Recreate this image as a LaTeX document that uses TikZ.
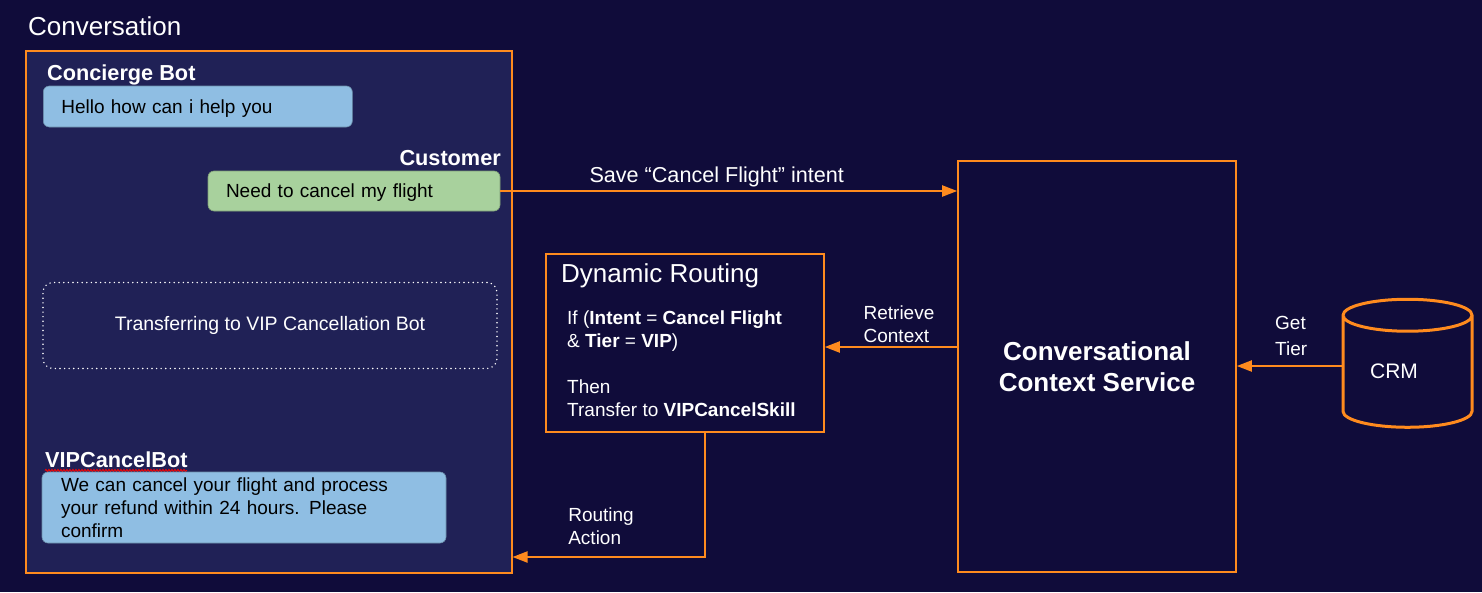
\documentclass[tikz,border=0pt]{standalone}
\usepackage{fontspec}
\setmainfont{Liberation Sans}
\usetikzlibrary{arrows.meta}
\usetikzlibrary{shapes.geometric}
\usetikzlibrary{decorations.pathmorphing}
\definecolor{navy}{RGB}{16,12,58}
\definecolor{panel}{RGB}{32,33,86}
\definecolor{amber}{RGB}{255,139,30}
\definecolor{sky}{RGB}{143,190,227}
\definecolor{mint}{RGB}{168,209,157}
\tikzset{t/.style={font=\fontsize{19}{23}\selectfont, text=white}}
\tikzset{b/.style={font=\fontsize{21.7}{25}\selectfont\bfseries, text=white}}
\tikzset{txt/.style={anchor=base west, inner sep=0pt}}
\tikzset{bub/.style={rounded corners=6pt, draw=#1!75!black, fill=#1, line width=0.6pt,
  inner xsep=18pt, inner ysep=0pt, align=left, font=\fontsize{19}{23}\selectfont, text=black}}
\tikzset{obox/.style={draw=amber, line width=1.6pt, inner sep=0pt}}
\tikzset{flow/.style={draw=amber, line width=2pt, -{Triangle[length=15pt,width=11pt]}}}

\begin{document}
\begin{tikzpicture}[x=1pt,y=-1pt]
  \fill[navy] (0,0) rectangle (1482,592);
  \useasboundingbox (0,0) rectangle (1482,592);

  % conversation panel
  \node (conv) at (268.7,311.7) [obox, fill=panel, minimum width=486pt, minimum height=522pt] {};
  \node (convt) at (28,35) [txt, font=\fontsize{26}{30}\selectfont, text=white] {Conversation};

  \node (concierge) at (47,80) [txt, b] {Concierge Bot};
  \node (hello) at (197.8,106.5) [bub=sky, text width=273pt, minimum height=41pt, text depth=0pt] {Hello how can i help you};

  \node (customer) at (501,165) [txt, anchor=base east, b] {Customer};
  \node (green) at (354,191) [bub=mint, text width=256pt, minimum height=40pt, text depth=0pt] {Need to cancel my flight};

  \node (xfer) at (270,325.5) [draw=white, line width=1.6pt, dash pattern=on 0pt off 4.6pt, line cap=round,
    rounded corners=10pt, minimum width=454pt, minimum height=86pt, t, font=\fontsize{19.5}{23}\selectfont]
    {Transferring to VIP Cancellation Bot};

  \node (vipbot) at (45,467) [txt, b] {VIPCancelBot};
  \draw[red, line width=0.8pt, decorate, decoration={snake, amplitude=1.2pt, segment length=3pt}]
    (vipbot.base west) ++(0,3.5) -- ++(142,0);
  \node (refund) at (244,507.5) [bub=sky, text width=366pt, minimum height=71pt, inner xsep=19pt]
    {We can cancel your flight and process\\ your refund within 24 hours. Please\\ confirm};

  % routing
  \node (dr) at (685,342.7) [obox, minimum width=278pt, minimum height=178pt] {};
  \node (drtitle) at (561,282) [txt, font=\fontsize{26}{30}\selectfont, text=white] {Dynamic Routing};
  \node (drbody) at (567,416.7) [txt, t, align=left]
    {If (\textbf{Intent} = \textbf{Cancel Flight}\\ \& \textbf{Tier} = \textbf{VIP})\\[23pt]
     Then\\ Transfer to \textbf{VIPCancelSkill}};

  % context service
  \node (ccs) at (1097,366.5) [obox, minimum width=278pt, minimum height=411pt,
    font=\fontsize{26}{31}\selectfont\bfseries, text=white, align=center] {Conversational\\Context Service};
  \node (crm) at (1407.5,372) [cylinder, shape border rotate=90, draw=amber, line width=3pt, aspect=0.68,
    minimum width=129pt, minimum height=128pt, inner sep=0pt, text width=47pt,
    label={[xshift=-13.5pt, yshift=1pt, font=\fontsize{21}{25}\selectfont, text=white]center:CRM}] {};

  \coordinate (gt) at (0,366);
  \draw[flow] (crm.west |- gt) -- node [above, t, align=left, yshift=5.5pt, xshift=2pt] {Get\\[3pt]Tier} (ccs.east |- gt);
  \draw[flow] (green.east) -- node [above, t, xshift=-12pt, font=\fontsize{21.6}{25}\selectfont]
    {Save “Cancel Flight” intent} (green.east -| ccs.west);
  \coordinate (rc) at (0,347);
  \draw[flow] (ccs.west |- rc) -- node [above, t, align=left, xshift=8pt] {Retrieve\\Context} (dr.east |- rc);
  \coordinate (ra) at (705,557);
  \draw[flow] (dr.south -| ra) -- (ra) -- node [above, pos=0.54, yshift=8pt, t, align=left] {Routing\\Action} (conv.east |- ra);
\end{tikzpicture}
\end{document}
